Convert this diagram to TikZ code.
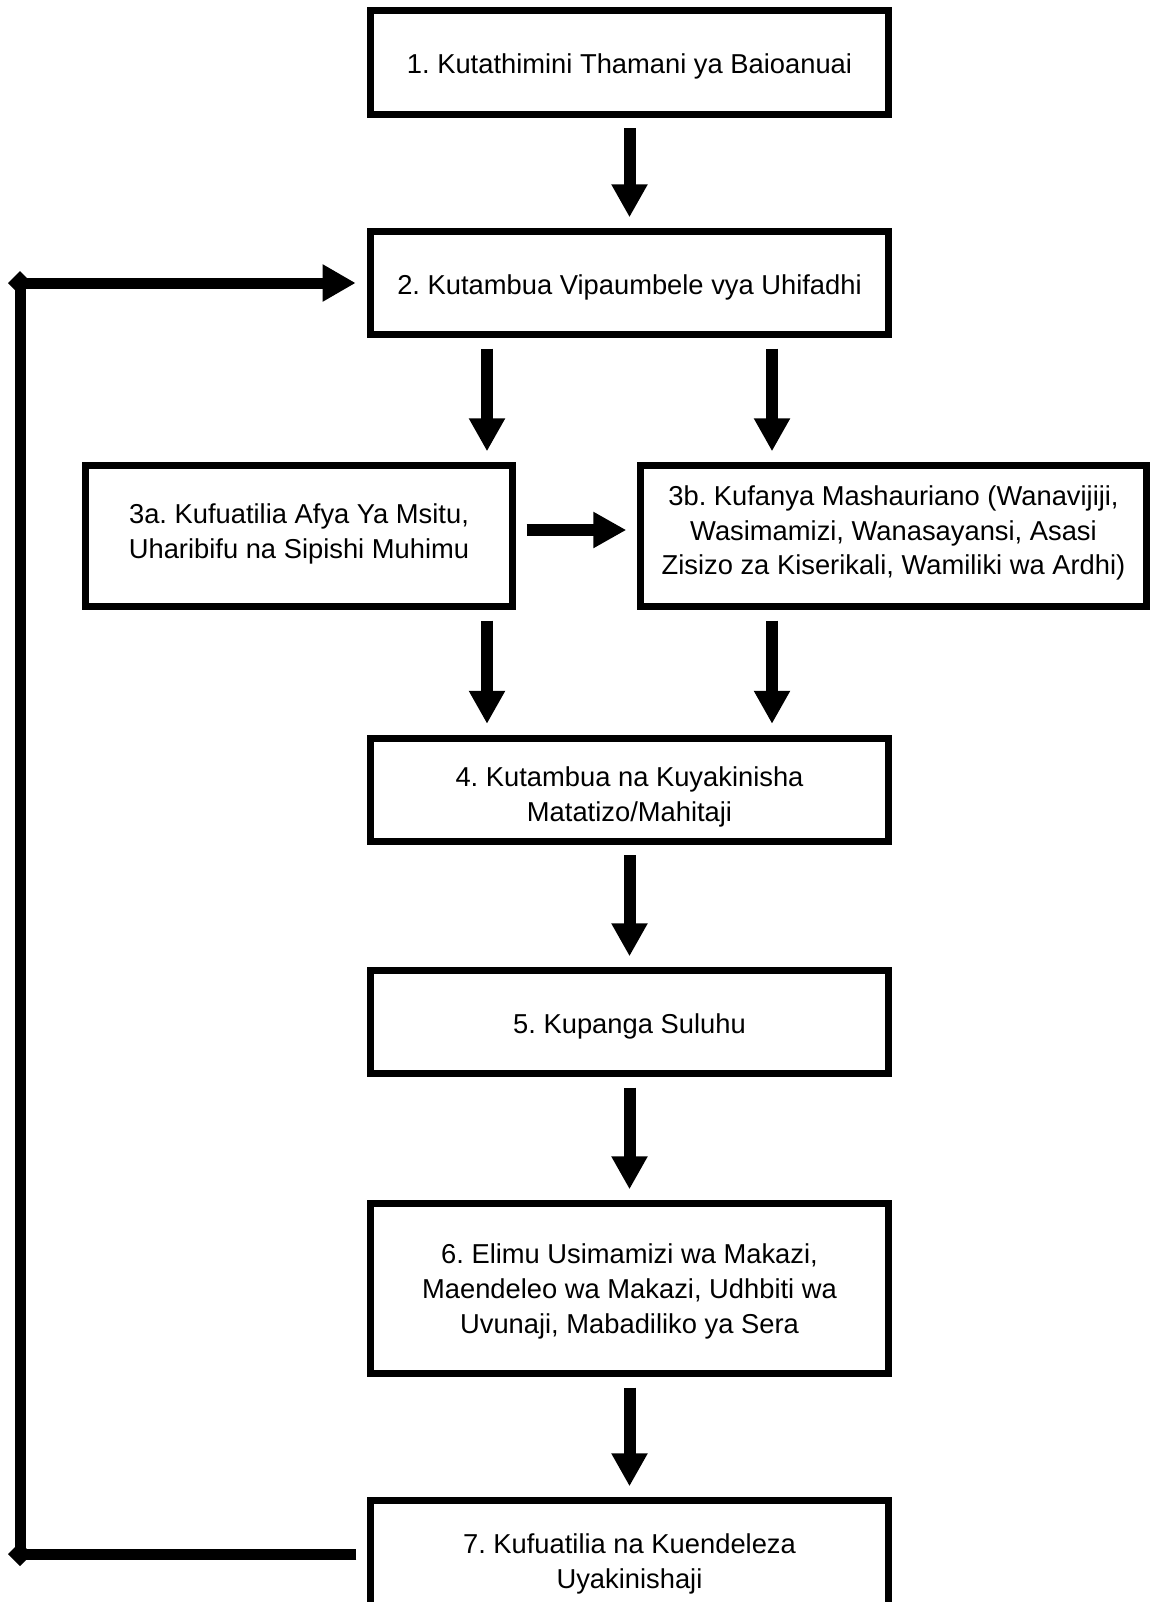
\documentclass[tikz,border=0pt]{standalone}
\usepackage{fontspec}
\setmainfont{Liberation Sans}
\usetikzlibrary{arrows.meta,calc}
\begin{document}
\frenchspacing
\begin{tikzpicture}[x=0.75pt,y=-0.75pt,
  box/.style={draw,line width=5.25pt,minimum width=388.5pt,minimum height=77.25pt,
    inner sep=0pt},
  txt/.style={inner sep=0pt,align=center,font=\fontsize{20.5}{26.2}\selectfont},
  arr/.style={line width=9pt,-{Triangle[length=24.75pt,width=25.5pt]},
    shorten <=8pt,shorten >=8pt},
  fb/.style={line width=8.25pt,line join=miter,
    -{Triangle[length=24.75pt,width=26.25pt]},shorten <=8pt,shorten >=8.5pt},
  corner/.style={fill=black}
]
\useasboundingbox (0,0) rectangle (1150,1602);

\node[box,label={[txt,yshift=-3pt]center:{1. Kutathimini Thamani ya Baioanuai}}]
  (b1) at (629.5,62.5) {};
\node[box,label={[txt,yshift=-3pt]center:{2. Kutambua Vipaumbele vya Uhifadhi}}]
  (b2) at (629.5,283) {};
\node[box,minimum width=320.25pt,minimum height=105.75pt,
  label={[txt,yshift=1.5pt]center:{3a. Kufuatilia Afya Ya Msitu,\\Uharibifu na Sipishi Muhimu}}]
  (b3a) at (299,536) {};
\node[box,minimum width=379.5pt,minimum height=105.75pt,
  label={[txt,yshift=2.3pt]center:{3b. Kufanya Mashauriano (Wanavijiji,\\Wasimamizi, Wanasayansi, Asasi\\Zisizo za Kiserikali, Wamiliki wa Ardhi)}}]
  (b3b) at (893.5,536) {};
\node[box,label={[txt,yshift=-5.4pt]center:{4. Kutambua na Kuyakinisha\\Matatizo/Mahitaji}}]
  (b4) at (629.5,789.5) {};
\node[box,label={[txt,yshift=-3pt]center:{5. Kupanga Suluhu}}]
  (b5) at (629.5,1022) {};
\node[box,minimum height=127.5pt,
  label={[txt,yshift=-2.3pt]center:{6. Elimu Usimamizi wa Makazi,\\Maendeleo wa Makazi, Udhbiti wa\\Uvunaji, Mabadiliko ya Sera}}]
  (b6) at (629.5,1288.5) {};
\node[box,minimum height=80.25pt,
  label={[txt,yshift=-7.7pt]center:{7. Kufuatilia na Kuendeleza\\Uyakinishaji}}]
  (b7) at (629.5,1554) {};

\coordinate (cL) at (487,0);
\coordinate (cR) at (772,0);
\coordinate (fx) at (20,0);

\draw[arr] (b1.south) -- (b2.north);
\draw[arr] (cL |- b2.south) -- (cL |- b3a.north);
\draw[arr] (cR |- b2.south) -- (cR |- b3b.north);
\draw[arr] ([yshift=4.5pt]b3a.east) -- ([yshift=4.5pt]b3b.west);
\draw[arr] (cL |- b3a.south) -- (cL |- b4.north);
\draw[arr] (cR |- b3b.south) -- (cR |- b4.north);
\draw[arr] (b4.south) -- (b5.north);
\draw[arr] (b5.south) -- (b6.north);
\draw[arr] (b6.south) -- (b7.north);

\draw[fb] (b7.west) -- (fx |- b7.west) -- (fx |- b2.west) -- (b2.west);
\fill[corner] (fx |- b2.west) +(-12,0) -- +(0,-12) -- +(12,0) -- +(0,12) -- cycle;
\fill[corner] (fx |- b7.west) +(-12,0) -- +(0,-12) -- +(12,0) -- +(0,12) -- cycle;
\end{tikzpicture}
\end{document}
